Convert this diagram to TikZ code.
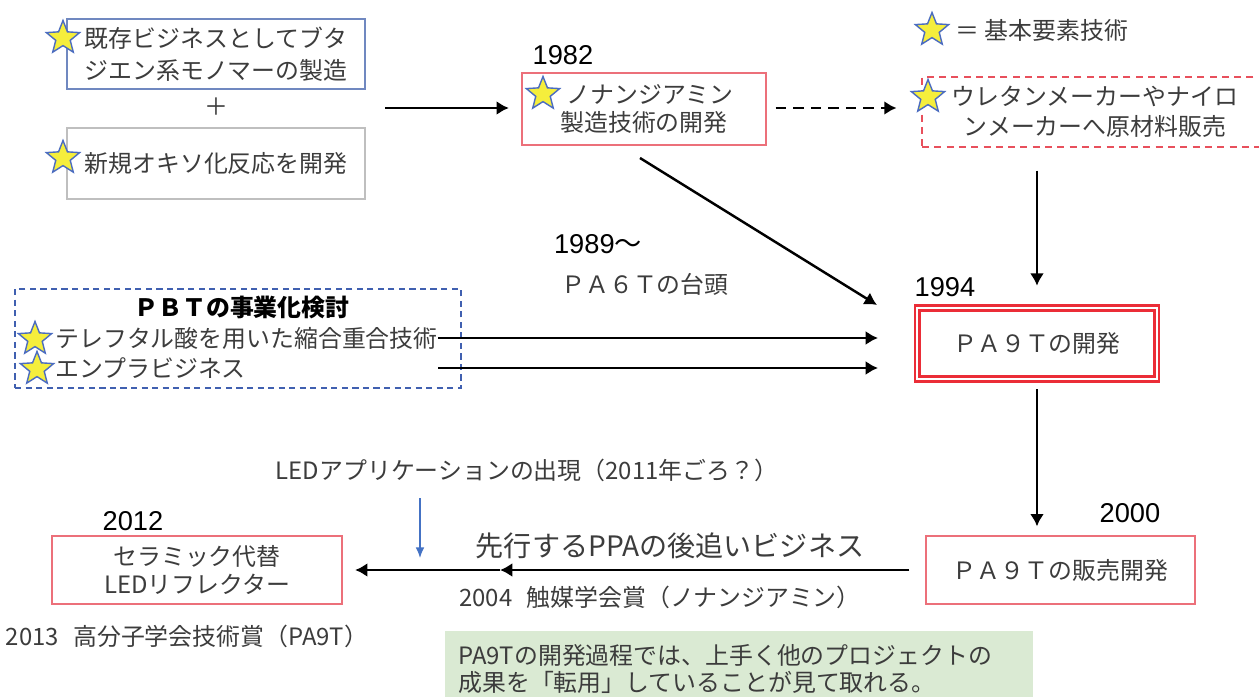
\documentclass[tikz,border=0pt]{standalone}
\usepackage{fontspec}
\setmainfont{Noto Sans CJK JP}
\newfontfamily\yearfont{Liberation Sans}
\usetikzlibrary{shapes.geometric,arrows.meta}
\definecolor{boxred}{RGB}{236,112,122}
\definecolor{dashred}{RGB}{232,80,92}
\definecolor{devred}{RGB}{235,45,55}
\definecolor{boxblue}{RGB}{112,136,192}
\definecolor{pbtblue}{RGB}{64,96,176}
\definecolor{boxgray}{RGB}{191,191,191}
\definecolor{staryellow}{RGB}{245,238,60}
\definecolor{starblue}{RGB}{75,108,192}
\definecolor{notegreen}{RGB}{218,234,211}
\definecolor{ledblue}{RGB}{68,114,196}
\definecolor{txtgray}{RGB}{60,60,60}
\tikzset{
  txt/.style={font=\fontsize{13.6}{17}\selectfont,text=txtgray,align=center,inner sep=0pt},
  year/.style={font=\yearfont\fontsize{15.5}{18}\selectfont,inner sep=0pt},
  basebox/.style={draw,line width=1pt,txt},
  kstar/.style={star,star points=5,star point ratio=2.3,draw=starblue,fill=staryellow,
    line width=0.8pt,minimum size=0.7cm,inner sep=0pt},
  arr/.style={-{Latex[length=7pt,width=8pt]},line width=1.4pt},
}
\begin{document}
\begin{tikzpicture}[x=0.02cm,y=-0.02cm]
  \clip (0,0) rectangle (1259,697);
  % boxes
  \node[basebox,draw=boxblue,minimum width=5.96cm,minimum height=1.4cm,
    font=\fontsize{13.6}{18}\selectfont] (exist) at (216,54)
    {既存ビジネスとしてブタ\\ジエン系モノマーの製造};
  \node[txt] (plus) at (216,107) {＋};
  \node[basebox,draw=boxgray,minimum width=5.96cm,minimum height=1.42cm] (oxo) at (216,163.5)
    {新規オキソ化反応を開発};
  \node[basebox,draw=boxred,minimum width=4.88cm,minimum height=1.44cm,
    font=\fontsize{13.6}{16.4}\selectfont] (nonan) at (644,109)
    {\hspace*{0.5em}ノナンジアミン\\製造技術の開発};
  \node[basebox,draw=dashred,dash pattern=on 4pt off 3pt,minimum width=6.92cm,
    minimum height=1.4cm] (ure) at (1095,112)
    {ウレタンメーカーやナイロ\\ンメーカーへ原材料販売};
  \node[basebox,draw=devred,double=white,double distance=1.2pt,line width=1.4pt,
    minimum width=4.8cm,minimum height=1.42cm] (dev) at (1037,343.5)
    {ＰＡ９Ｔの開発};
  \node[basebox,draw=boxred,minimum width=5.38cm,minimum height=1.36cm] (sale) at (1060.5,570)
    {ＰＡ９Ｔの販売開発};
  \node[basebox,draw=boxred,minimum width=5.8cm,minimum height=1.36cm,
    font=\fontsize{13.6}{16}\selectfont] (led) at (197,570)
    {セラミック代替\\LEDリフレクター};
  \node[draw=pbtblue,line width=1pt,dash pattern=on 3.5pt off 2.5pt,minimum width=8.92cm,
    minimum height=1.98cm] (pbt) at (238,338.5) {};
  \node[txt,text=black,font=\bfseries\fontsize{13.6}{17}\selectfont] (pbttitle) at (242,307)
    {ＰＢＴの事業化検討};
  \node[txt,anchor=west] (pbt1) at (55,338) {テレフタル酸を用いた縮合重合技術};
  \node[txt,anchor=west] (pbt2) at (55,368) {エンプラビジネス};
  \node[fill=notegreen,anchor=north west,minimum width=11.76cm,minimum height=1.5cm,
    inner xsep=0.26cm,text width=11.24cm,align=left,font=\fontsize{13.6}{15.4}\selectfont,
    text=txtgray] (note) at (445,631)
    {PA9Tの開発過程では、上手く他のプロジェクトの\\成果を「転用」していることが見て取れる。};
  % stars
  \node[kstar] (s1) at (63,38) {};
  \node[kstar] (s2) at (63,158) {};
  \node[kstar] (s3) at (543,94) {};
  \node[kstar] (s4) at (932,30) {};
  \node[kstar] (s5) at (928,97) {};
  \node[kstar] (s6) at (35,339) {};
  \node[kstar] (s7) at (37,369) {};
  \node[txt,anchor=west] (legend) at (955,30) {＝ 基本要素技術};
  % years and labels
  \node[year] (y1982) at (563,55) {1982};
  \node[year] (y1989) at (598,244) {1989\normalfont〜};
  \node[txt] (pa6t) at (645,284) {ＰＡ６Ｔの台頭};
  \node[year] (y1994) at (945,287) {1994};
  \node[year] (y2000) at (1130,513) {2000};
  \node[year] (y2012) at (133,521) {2012};
  \node[txt] (ledapp) at (527,470) {LEDアプリケーションの出現（2011年ごろ？）};
  \node[txt,font=\fontsize{16}{19}\selectfont] (ppa) at (670,546) {先行するPPAの後追いビジネス};
  \node[txt] (award04) at (660,597) {2004\hspace{0.6em}触媒学会賞（ノナンジアミン）};
  \node[txt] (award13) at (187,636) {2013\hspace{0.6em}高分子学会技術賞（PA9T）};
  % free ends
  \coordinate (src) at (385,108);
  \coordinate (nfoot) at (640,158);
  \coordinate (dtip) at (877,305);
  \coordinate (midtip) at (500,570);
  \coordinate (bl0) at (420,498);
  \coordinate (bl1) at (420,558);
  % connectors
  \begin{scope}[arr]
    \draw[shorten >=7pt] (src) -- (nonan.west |- src);
    \draw[dashed,dash pattern=on 6pt off 4pt,shorten <=5pt,shorten >=14pt] (nonan.east |- src) -- (ure.west |- src);
    \draw[shorten <=13pt,shorten >=12pt] (dev.north |- ure.south) -- (dev.north);
    \draw (nfoot) -- (dtip);
    \draw[shorten >=21.5pt] (pbt1.east) -- (pbt1.east -| dev.west);
    \draw[shorten >=21.5pt] (pbt1.east |- pbt2) -- (pbt2 -| dev.west);
    \draw[shorten <=5pt,shorten >=5pt] (dev.south) -- (dev.south |- sale.north);
    \draw[shorten <=9pt] (sale.west) -- (midtip);
    \draw[shorten >=7pt] (midtip) -- (led.east);
    \draw[ledblue,line width=0.9pt,-{Latex[length=6pt,width=5pt]}] (bl0) -- (bl1);
  \end{scope}
\end{tikzpicture}
\end{document}
